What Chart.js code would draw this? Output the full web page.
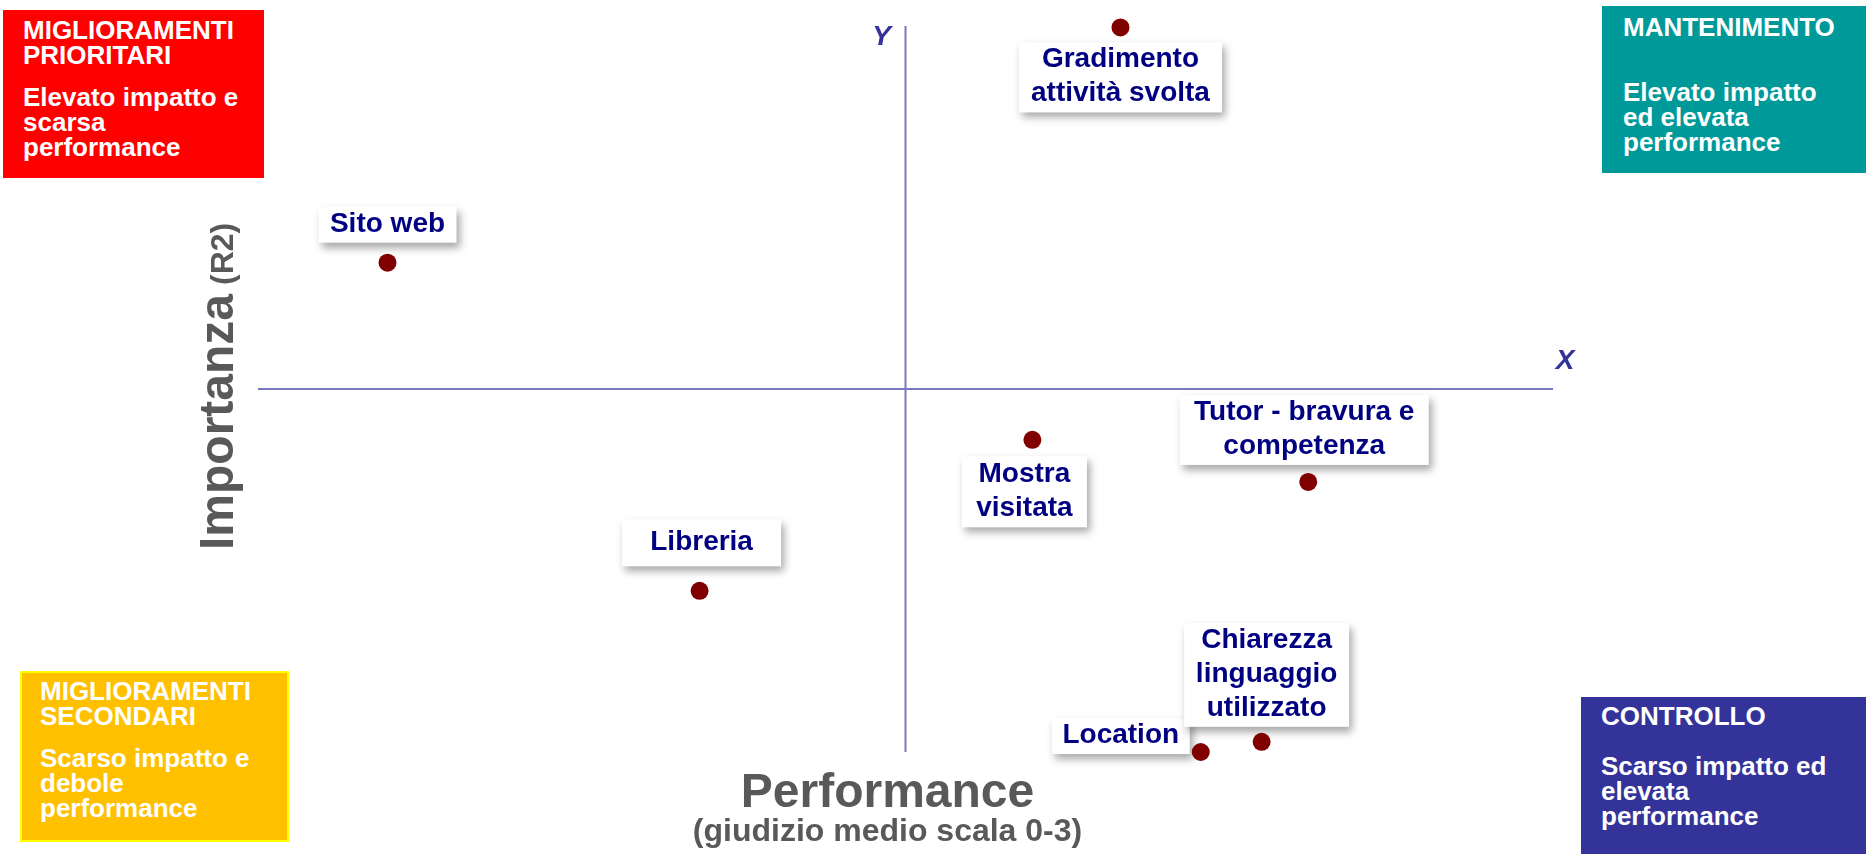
<!DOCTYPE html>
<html lang="it">
<head>
<meta charset="utf-8">
<title>Matrice importanza / performance</title>
<script src="https://cdn.jsdelivr.net/npm/chart.js@4.4.1/dist/chart.umd.min.js"></script>
<style>
  html, body { margin: 0; padding: 0; background: #fff; overflow: hidden; }
  #wrap { position: relative; width: 1866px; height: 854px; }
  canvas { position: absolute; left: 0; top: 0; }
  .quad {
    position: absolute; box-sizing: border-box; color: #fff;
    font-family: "Liberation Sans", Arial, sans-serif; font-weight: bold;
    font-size: 26px; line-height: 25px;
  }
  .quad .body { margin-top: 17px; }
  #q-red { left: 3px; top: 10px; width: 261px; height: 168px; background: #ff0000; padding: 8px 0 0 20px; }
  #q-teal { left: 1602px; top: 6px; width: 264px; height: 167px; background: #009999; padding: 9px 0 0 21px; }
  #q-teal .body { margin-top: 40px; }
  #q-yellow { left: 20px; top: 671px; width: 269px; height: 171px; background: #ffc000; border: 2px solid #ffff00; padding: 6px 0 0 18px; }
  #q-blue { left: 1581px; top: 697px; width: 285px; height: 157px; background: #333399; padding: 7px 0 0 20px; }
  #q-blue .body { margin-top: 25px; }
</style>
</head>
<body>
<div id="wrap">
  <canvas id="matrixChart" width="1866" height="854"></canvas>
  <div class="quad" id="q-red"><div>MIGLIORAMENTI<br>PRIORITARI</div><div class="body">Elevato impatto e<br>scarsa<br>performance</div></div>
  <div class="quad" id="q-teal"><div>MANTENIMENTO</div><div class="body">Elevato impatto<br>ed elevata<br>performance</div></div>
  <div class="quad" id="q-yellow"><div>MIGLIORAMENTI<br>SECONDARI</div><div class="body">Scarso impatto e<br>debole<br>performance</div></div>
  <div class="quad" id="q-blue"><div>CONTROLLO</div><div class="body">Scarso impatto ed<br>elevata<br>performance</div></div>
</div>
<script>
// ---- DATA ----
const categories = [
  ["Gradimento", "attività svolta"],
  ["Sito web"],
  ["Mostra", "visitata"],
  ["Tutor - bravura e", "competenza"],
  ["Libreria"],
  ["Location"],
  ["Chiarezza", "linguaggio", "utilizzato"]
];
const performance = [2.666, 2.100, 2.598, 2.811, 2.341, 2.728, 2.775];  // X
const importance  = [0.499, 0.337, 0.215, 0.186, 0.111, 0.000, 0.007];  // Y (R2)
const xRange = [2.0, 3.0];
const yRange = [0.0, 0.5];
const xCross = 2.5;
const yCross = 0.25;

// label box placement relative to each point (dx, dy = box centre offset)
const labelLayout = [
  { dx: 0,   dy: 50,  w: 203, h: 70 },
  { dx: 0,   dy: -38, w: 138, h: 36 },
  { dx: -8,  dy: 52,  w: 125, h: 71 },
  { dx: -4,  dy: -52, w: 249, h: 70 },
  { dx: 2,   dy: -48, w: 159, h: 47 },
  { dx: -80, dy: -16, w: 138, h: 36 },
  { dx: 5,   dy: -67, w: 165, h: 104 }
];

const FONT = '"Liberation Sans", Arial, sans-serif';

// ---- PLUGINS ----
const axesPlugin = {
  id: "quadrantAxes",
  beforeDatasetsDraw(chart) {
    const { ctx, chartArea: a, scales } = chart;
    const cx = scales.x.getPixelForValue(xCross);
    const cy = scales.y.getPixelForValue(yCross);
    ctx.save();
    ctx.strokeStyle = "#7878be";
    ctx.lineWidth = 2;
    ctx.beginPath();
    ctx.moveTo(cx, a.top); ctx.lineTo(cx, a.bottom);
    ctx.moveTo(a.left, cy); ctx.lineTo(a.right, cy);
    ctx.stroke();

    ctx.fillStyle = "#333399";
    ctx.font = "italic bold 28px " + FONT;
    ctx.textAlign = "center";
    ctx.textBaseline = "middle";
    ctx.fillText("Y", cx - 24, a.top + 11);
    ctx.fillText("X", a.right + 12, cy - 28);

    // axis titles
    ctx.fillStyle = "#595959";
    ctx.textBaseline = "alphabetic";
    ctx.font = "bold 48px " + FONT;
    ctx.fillText("Performance", cx - 18, a.bottom + 55);
    ctx.font = "bold 32px " + FONT;
    ctx.fillText("(giudizio medio scala 0-3)", cx - 18, a.bottom + 89);

    ctx.translate(a.left - 25, cy + 161);
    ctx.rotate(-Math.PI / 2);
    ctx.textAlign = "left";
    ctx.font = "bold 48px " + FONT;
    ctx.fillText("Importanza", 0, 0);
    const w = ctx.measureText("Importanza").width;
    ctx.font = "bold 32px " + FONT;
    ctx.fillText("(R2)", w + 9, 0);
    ctx.restore();

    // point labels
    const meta = chart.getDatasetMeta(0);
    meta.data.forEach((pt, i) => {
      const lay = labelLayout[i];
      const lines = categories[i];
      const bx = pt.x + lay.dx, by = pt.y + lay.dy;
      ctx.save();
      ctx.shadowColor = "rgba(0,0,0,0.35)";
      ctx.shadowBlur = 8;
      ctx.shadowOffsetX = 3;
      ctx.shadowOffsetY = 5;
      ctx.fillStyle = "#ffffff";
      ctx.fillRect(bx - lay.w / 2, by - lay.h / 2, lay.w, lay.h);
      ctx.restore();
      ctx.save();
      ctx.fillStyle = "#000080";
      ctx.font = "bold 28px " + FONT;
      ctx.textAlign = "center";
      ctx.textBaseline = "alphabetic";
      const lh = 34;
      lines.forEach((t, k) => {
        ctx.fillText(t, bx, by - (lines.length - 1) * lh / 2 + k * lh + 7);
      });
      ctx.restore();
    });
  }
};

// ---- CHART ----
new Chart(document.getElementById("matrixChart"), {
  type: "scatter",
  data: {
    datasets: [{
      label: "Importanza / Performance",
      data: performance.map((v, i) => ({ x: v, y: importance[i] })),
      backgroundColor: "#800000",
      borderWidth: 0,
      pointRadius: 9,
      pointHoverRadius: 9,
      clip: false
    }]
  },
  options: {
    responsive: false,
    animation: false,
    events: [],
    layout: { padding: { left: 258, right: 313, top: 26, bottom: 102 } },
    plugins: { legend: { display: false }, tooltip: { enabled: false } },
    scales: {
      x: { type: "linear", min: xRange[0], max: xRange[1], display: false },
      y: { type: "linear", min: yRange[0], max: yRange[1], display: false }
    }
  },
  plugins: [axesPlugin]
});
</script>
</body>
</html>
